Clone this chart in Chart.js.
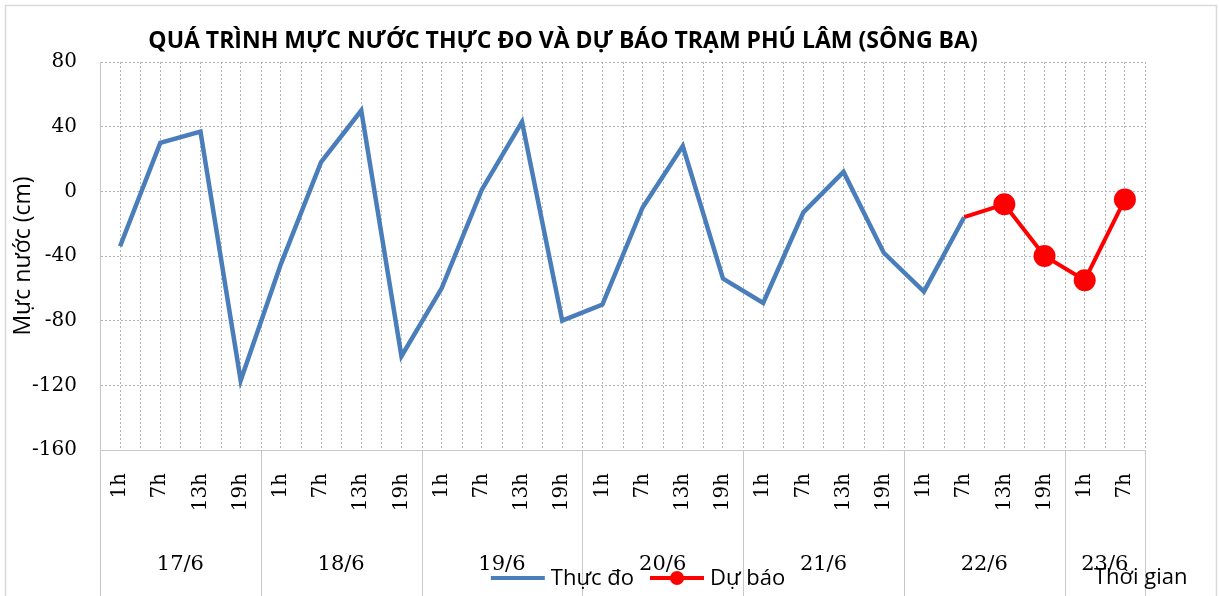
<!DOCTYPE html>
<html><head><meta charset="utf-8">
<script src="https://cdn.jsdelivr.net/npm/chart.js@4/dist/chart.umd.min.js"></script>
<style>html,body{margin:0;padding:0;background:#fff}</style>
</head><body>
<canvas id="c" width="1219" height="596"></canvas>
<script>
const chartTitle = 'QUÁ TRÌNH MỰC NƯỚC THỰC ĐO VÀ DỰ BÁO TRẠM PHÚ LÂM (SÔNG BA)';
const yTitle = 'Mực nước (cm)';
const xTitle = 'Thời gian';
const dates = ['17/6', '18/6', '19/6', '20/6', '21/6', '22/6', '23/6'];
const hoursOfDay = ['1h', '7h', '13h', '19h'];
const pointsPerDate = [4, 4, 4, 4, 4, 4, 2];
const seriesNames = ['Thực đo', 'Dự báo'];
const observed = [-34, 30, 37, -117, -45, 18, 50, -102, -60, 1, 43, -80, -70, -10, 28, -54, -69, -13, 12, -38, -62, -16, null, null, null, null];
const forecast = [null, null, null, null, null, null, null, null, null, null, null, null, null, null, null, null, null, null, null, null, null, -16, -8, -40, -55, -5];
const yMin = -160, yMax = 80, yStep = 40;

const hourLabels = [];
pointsPerDate.forEach(n => { for (let i = 0; i < n; i++) hourLabels.push(hoursOfDay[i]); });
const forecastStart = forecast.findIndex(v => v !== null);

const SERIF = '"DejaVu Serif", serif';
const SANS = '"Open Sans", "Noto Sans", sans-serif';
const GRID = '#b4b4b4';
const AXIS = '#c8c8c8';

const decor = {
  id: 'decor',
  beforeDatasetsDraw(chart) {
    const {ctx, chartArea: a, scales: {x}} = chart;
    const step = x.getPixelForValue(1) - x.getPixelForValue(0);
    ctx.save();
    ctx.strokeStyle = GRID; ctx.lineWidth = 1; ctx.setLineDash([2, 2]);
    for (let i = 0; i < hourLabels.length; i++) {
      const px = Math.round(x.getPixelForValue(i) + step / 2) + 0.5;
      ctx.beginPath(); ctx.moveTo(px, a.top); ctx.lineTo(px, a.bottom); ctx.stroke();
    }
    ctx.restore();
  },
  afterDraw(chart) {
    const {ctx, chartArea: a, scales: {x}, width, height} = chart;
    const step = x.getPixelForValue(1) - x.getPixelForValue(0);
    ctx.save();
    // outer border
    ctx.strokeStyle = '#d9d9d9'; ctx.lineWidth = 1.5;
    ctx.strokeRect(5.5, 5.5, width - 8, height + 20);
    // date separators + labels
    ctx.strokeStyle = AXIS; ctx.lineWidth = 1;
    let idx = 0;
    const bounds = [0];
    pointsPerDate.forEach(n => { idx += n; bounds.push(idx); });
    bounds.forEach(b => {
      const px = Math.round(x.getPixelForValue(0) - step / 2 + b * step) + 0.5;
      ctx.beginPath(); ctx.moveTo(px, a.bottom); ctx.lineTo(px, height); ctx.stroke();
    });
    ctx.fillStyle = '#000'; ctx.font = '21px ' + SERIF;
    ctx.textAlign = 'center'; ctx.textBaseline = 'middle';
    dates.forEach((d, i) => {
      const cx = x.getPixelForValue(0) - step / 2 + (bounds[i] + bounds[i + 1]) / 2 * step;
      ctx.fillText(d, cx, 565);
    });
    // title
    ctx.font = 'bold 23px ' + SANS; ctx.textBaseline = 'alphabetic';
    ctx.fillText(chartTitle, 563, 48);
    // legend
    ctx.font = '22px ' + SANS; ctx.textAlign = 'left'; ctx.textBaseline = 'middle';
    const lineLen = 54, gapT = 6, gapItem = 16;
    const ds = chart.data.datasets;
    let total = 0;
    ds.forEach((d, i) => { total += lineLen + gapT + ctx.measureText(d.label).width + (i < ds.length - 1 ? gapItem : 0); });
    let lx = 638 - total / 2;
    const ly = 578;
    ds.forEach((d) => {
      ctx.strokeStyle = d.borderColor; ctx.lineWidth = 4;
      ctx.beginPath(); ctx.moveTo(lx, ly); ctx.lineTo(lx + lineLen, ly); ctx.stroke();
      if (d.legendMarker) {
        ctx.fillStyle = d.backgroundColor;
        ctx.beginPath(); ctx.arc(lx + lineLen / 2, ly, 7, 0, Math.PI * 2); ctx.fill();
      }
      ctx.fillStyle = '#000';
      ctx.fillText(d.label, lx + lineLen + gapT, ly + 1);
      lx += lineLen + gapT + ctx.measureText(d.label).width + gapItem;
    });
    // x title
    ctx.font = '22px ' + SANS; ctx.textAlign = 'left';
    ctx.fillText(xTitle, 1094, 578);
    ctx.restore();
  }
};

new Chart(document.getElementById('c'), {
  type: 'line',
  data: {
    labels: hourLabels,
    datasets: [
      {label: seriesNames[0], data: observed, borderColor: '#4a7ebb', backgroundColor: '#4a7ebb',
       borderWidth: 4.5, pointRadius: 0, tension: 0, spanGaps: false},
      {label: seriesNames[1], data: forecast, borderColor: '#ff0000', backgroundColor: '#ff0000',
       borderWidth: 4, tension: 0, legendMarker: true,
       pointRadius: c => (c.dataIndex === forecastStart ? 0 : 11), pointBorderWidth: 0}
    ]
  },
  options: {
    responsive: false, animation: false, events: [],
    layout: {padding: {left: 6, right: 74, top: 62, bottom: 0}},
    plugins: {legend: {display: false}, title: {display: false}, tooltip: {enabled: false}},
    scales: {
      x: {
        type: 'category', offset: true,
        grid: {offset: false, drawTicks: false, color: GRID, lineWidth: 1},
        border: {display: true, color: AXIS, width: 1, dash: [2, 2]},
        ticks: {autoSkip: false, minRotation: 90, maxRotation: 90, padding: 23, color: '#000',
                font: {family: SERIF, size: 20}},
        afterFit: s => { s.height = 146; }
      },
      y: {
        min: yMin, max: yMax,
        grid: {drawTicks: false, color: GRID, lineWidth: 1},
        border: {display: true, color: AXIS, width: 1, dash: [2, 2]},
        ticks: {stepSize: yStep, padding: 23, color: '#000', font: {family: SERIF, size: 20}},
        title: {display: true, text: yTitle, color: '#000', font: {family: SANS, size: 23}, padding: {top: 4, bottom: 0}},
        afterFit: s => { s.width = 94; }
      }
    }
  },
  plugins: [decor]
});
</script>
</body></html>
